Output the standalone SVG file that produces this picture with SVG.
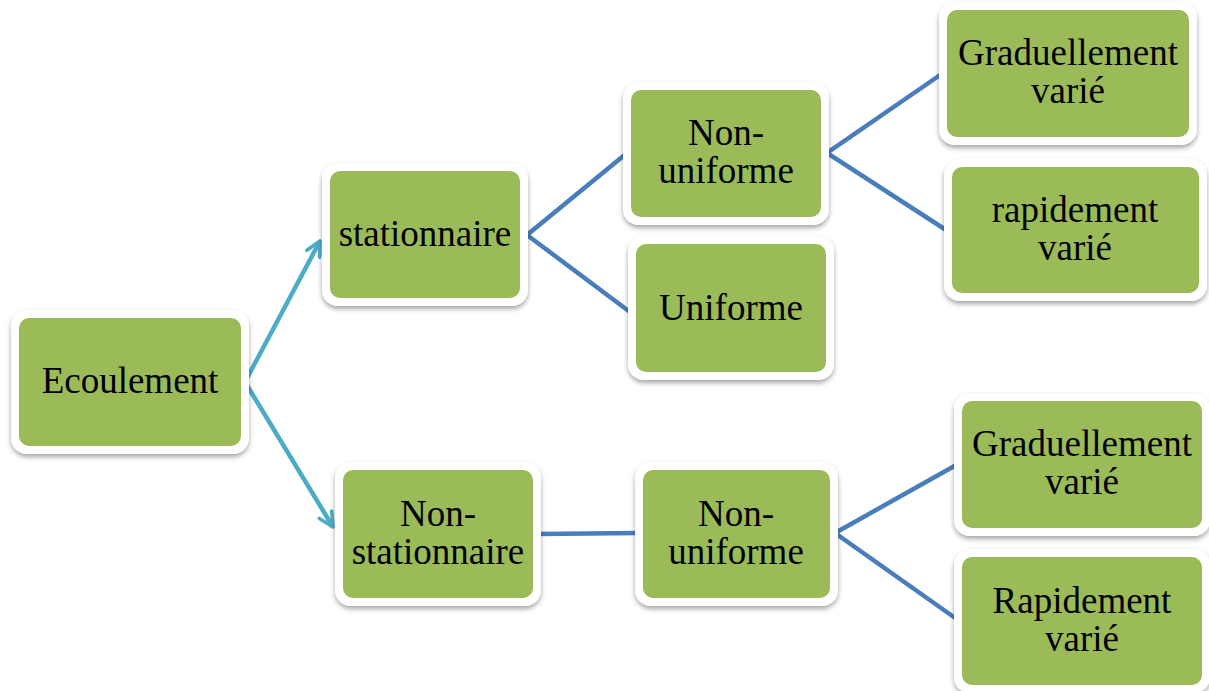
<svg xmlns="http://www.w3.org/2000/svg" width="1209" height="691" viewBox="0 0 1209 691">
<style>
.outer{fill:#ffffff;filter:url(#sh)}
.box{fill:#9BBB59}
.t{font-family:"Liberation Serif","Times New Roman",serif;font-size:37px;fill:#000;text-anchor:middle}
.c1{stroke:#4BACC6;stroke-width:4.5;fill:none;marker-end:url(#ah)}
.c2{stroke:#4A7EBB;stroke-width:4.5;fill:none;stroke-linejoin:miter}
</style>
<defs>
<filter id="sh" x="-10%" y="-10%" width="120%" height="130%">
<feDropShadow dx="0" dy="3" stdDeviation="2.5" flood-color="#000" flood-opacity="0.35"/>
</filter>
<marker id="ah" viewBox="0 0 10 10" refX="9" refY="5" markerWidth="4" markerHeight="4" orient="auto" markerUnits="strokeWidth">
<polyline points="1,1 9,5 1,9" fill="none" stroke="#4BACC6" stroke-width="2" stroke-linecap="round" stroke-linejoin="round"/>
</marker>
</defs>
<g id="connectors">
<line class="c1" x1="245" y1="382" x2="320" y2="241"/>
<line class="c1" x1="245" y1="382" x2="333" y2="527"/>
<polyline class="c2" points="627,153 527,235 630,312"/>
<line class="c2" x1="537" y1="534" x2="638" y2="533"/>
<polyline class="c2" points="943,73 827,153 946,230"/>
<polyline class="c2" points="958,464 835,533 958,620"/>
</g>
<g id="n_ecoulement">
<rect class="outer" x="11" y="310" width="238" height="144" rx="16"/>
<rect class="box" x="19" y="318" width="222" height="128" rx="10"/>
<text class="t" x="130" y="393">Ecoulement</text>
</g>
<g id="n_stationnaire">
<rect class="outer" x="322" y="163" width="206" height="143" rx="16"/>
<rect class="box" x="330" y="171" width="190" height="127" rx="10"/>
<text class="t" x="425" y="246">stationnaire</text>
</g>
<g id="n_nonuniforme1">
<rect class="outer" x="623" y="82" width="206" height="143" rx="16"/>
<rect class="box" x="631" y="90" width="190" height="127" rx="10"/>
<text class="t" x="726" y="145">Non-</text>
<text class="t" x="726" y="183">uniforme</text>
</g>
<g id="n_uniforme">
<rect class="outer" x="628" y="236" width="206" height="144" rx="16"/>
<rect class="box" x="636" y="244" width="190" height="128" rx="10"/>
<text class="t" x="731" y="320">Uniforme</text>
</g>
<g id="n_graduel1">
<rect class="outer" x="939" y="2" width="258" height="143" rx="16"/>
<rect class="box" x="947" y="10" width="242" height="127" rx="10"/>
<text class="t" x="1068" y="65">Graduellement</text>
<text class="t" x="1068" y="103">varié</text>
</g>
<g id="n_rapide1">
<rect class="outer" x="944" y="159" width="263" height="142" rx="16"/>
<rect class="box" x="952" y="167" width="247" height="126" rx="10"/>
<text class="t" x="1075" y="222">rapidement</text>
<text class="t" x="1075" y="260">varié</text>
</g>
<g id="n_nonstationnaire">
<rect class="outer" x="335" y="462" width="206" height="144" rx="16"/>
<rect class="box" x="343" y="470" width="190" height="128" rx="10"/>
<text class="t" x="438" y="526">Non-</text>
<text class="t" x="438" y="564">stationnaire</text>
</g>
<g id="n_nonuniforme2">
<rect class="outer" x="635" y="462" width="203" height="144" rx="16"/>
<rect class="box" x="643" y="470" width="187" height="128" rx="10"/>
<text class="t" x="736" y="526">Non-</text>
<text class="t" x="736" y="564">uniforme</text>
</g>
<g id="n_graduel2">
<rect class="outer" x="954" y="393" width="256" height="143" rx="16"/>
<rect class="box" x="962" y="401" width="240" height="127" rx="10"/>
<text class="t" x="1082" y="456">Graduellement</text>
<text class="t" x="1082" y="494">varié</text>
</g>
<g id="n_rapide2">
<rect class="outer" x="954" y="549" width="256" height="144" rx="16"/>
<rect class="box" x="962" y="557" width="240" height="128" rx="10"/>
<text class="t" x="1082" y="613">Rapidement</text>
<text class="t" x="1082" y="651">varié</text>
</g>
</svg>
